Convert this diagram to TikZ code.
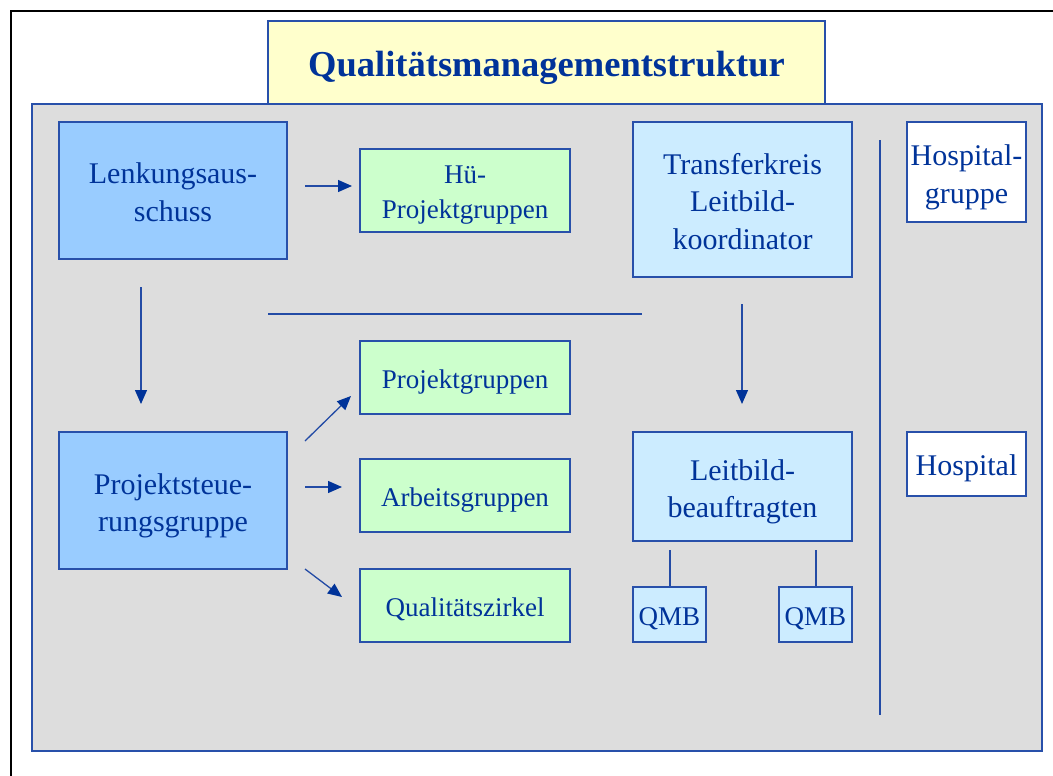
\documentclass[tikz,border=0pt]{standalone}
\usepackage{fontspec}
\setmainfont{Liberation Serif}
\usetikzlibrary{arrows.meta}
\definecolor{txtblue}{RGB}{0,51,153}
\definecolor{bordercol}{RGB}{40,80,170}
\definecolor{linecol}{RGB}{35,75,165}
\definecolor{panelgray}{RGB}{221,221,221}
\definecolor{titlefill}{RGB}{255,255,204}
\definecolor{midblue}{RGB}{153,204,255}
\definecolor{paleblue}{RGB}{204,236,255}
\definecolor{palegreen}{RGB}{204,255,204}
\newcommand{\nodesc}[1]{\raisebox{0pt}[\height][0pt]{#1}}
\newcommand{\bigstrut}{\rule{0pt}{24.5pt}}
\newcommand{\smallstrut}{\rule{0pt}{21.4pt}}
\begin{document}
\begin{tikzpicture}[x=1pt,y=-1pt,
  box/.style={draw=bordercol,line width=1.4pt,text=txtblue,align=center,inner sep=0pt},
  bigtxt/.style={font=\fontsize{30}{37.5}\selectfont},
  smalltxt/.style={font=\fontsize{27}{35}\selectfont},
  oneline/.style={text height=21pt,text depth=0pt},
  conn/.style={draw=linecol,line width=1.3pt},
  arr/.style={conn,-{Triangle[length=14pt,width=12pt,color=txtblue]}}]
\useasboundingbox (0,0) rectangle (1053,776);
\fill[white] (0,0) rectangle (1053,776);
\draw[line width=2pt,black] (11,776) -- (11,11) -- (1053,11);
% panel and title
\node[box,fill=panelgray,minimum width=1010pt,minimum height=647pt] (panel) at (537,427.5) {};
\node[box,fill=titlefill,minimum width=557pt,minimum height=83pt,
      font=\fontsize{36.5}{42}\selectfont\bfseries,text height=29pt,text depth=0pt] (title) at (546.5,62.5) {Qualitätsmanagementstruktur};
% left column
\node[box,bigtxt,fill=midblue,minimum width=228pt,minimum height=137pt] (lenk) at (173,190.5) {\bigstrut Lenkungsaus-\\schuss};
\node[box,bigtxt,fill=midblue,minimum width=228pt,minimum height=137pt] (psg) at (173,500.5) {\bigstrut Projektsteue-\\\nodesc{rungsgruppe}};
% green boxes
\node[box,smalltxt,fill=palegreen,minimum width=210pt,minimum height=83pt] (hue) at (465,190.5) {\smallstrut Hü-\\\nodesc{Projektgruppen}};
\node[box,smalltxt,oneline,fill=palegreen,minimum width=210pt,minimum height=73pt] (pg) at (465,377.5) {Projektgruppen};
\node[box,smalltxt,oneline,fill=palegreen,minimum width=210pt,minimum height=73pt] (ag) at (465,495.5) {Arbeitsgruppen};
\node[box,smalltxt,oneline,fill=palegreen,minimum width=210pt,minimum height=73pt] (qz) at (465,605.5) {Qualitätszirkel};
% right middle column
\node[box,bigtxt,fill=paleblue,minimum width=219pt,minimum height=155pt] (trans) at (742.5,199.5) {\bigstrut Transferkreis\\Leitbild-\\koordinator};
\node[box,bigtxt,fill=paleblue,minimum width=219pt,minimum height=109pt] (leit) at (742.5,486.5) {\bigstrut Leitbild-\\\nodesc{beauftragten}};
\node[box,smalltxt,oneline,fill=paleblue,minimum width=73pt,minimum height=55pt] (qmba) at (669.5,614.5) {QMB};
\node[box,smalltxt,oneline,fill=paleblue,minimum width=73pt,minimum height=55pt] (qmbb) at (815.5,614.5) {QMB};
% right column
\node[box,bigtxt,fill=white,minimum width=119pt,minimum height=100pt] (hgr) at (966.5,172) {\bigstrut Hospital-\\\nodesc{gruppe}};
\node[box,bigtxt,fill=white,text height=22pt,text depth=0pt,minimum width=119pt,minimum height=64pt] (hosp) at (966.5,464) {Hospital};
% connector end points
\coordinate (a1s) at (305,186);   \coordinate (a1e) at (352,186);
\coordinate (a2s) at (141,287);   \coordinate (a2e) at (141,404);
\coordinate (a3s) at (742,304);   \coordinate (a3e) at (742,404);
\coordinate (a4s) at (305,441);   \coordinate (a4e) at (351,396);
\coordinate (a5s) at (305,487);   \coordinate (a5e) at (342,487);
\coordinate (a6s) at (305,569);   \coordinate (a6e) at (342,597);
\coordinate (hls) at (268,314);   \coordinate (hle) at (642,314);
\coordinate (vls) at (880,140);   \coordinate (vle) at (880,715);
\coordinate (q1t) at (670,550);   \coordinate (q2t) at (816,550);
% connectors
\draw[arr] (a1s) -- (a1e);
\draw[arr] (a2s) -- (a2e);
\draw[arr] (a3s) -- (a3e);
\draw[arr] (a4s) -- (a4e);
\draw[arr] (a5s) -- (a5e);
\draw[arr] (a6s) -- (a6e);
\draw[conn] (hls) -- (hle);
\draw[conn] (vls) -- (vle);
\draw[conn] (q1t) -- (q1t |- qmba.north);
\draw[conn] (q2t) -- (q2t |- qmbb.north);
\end{tikzpicture}
\end{document}
